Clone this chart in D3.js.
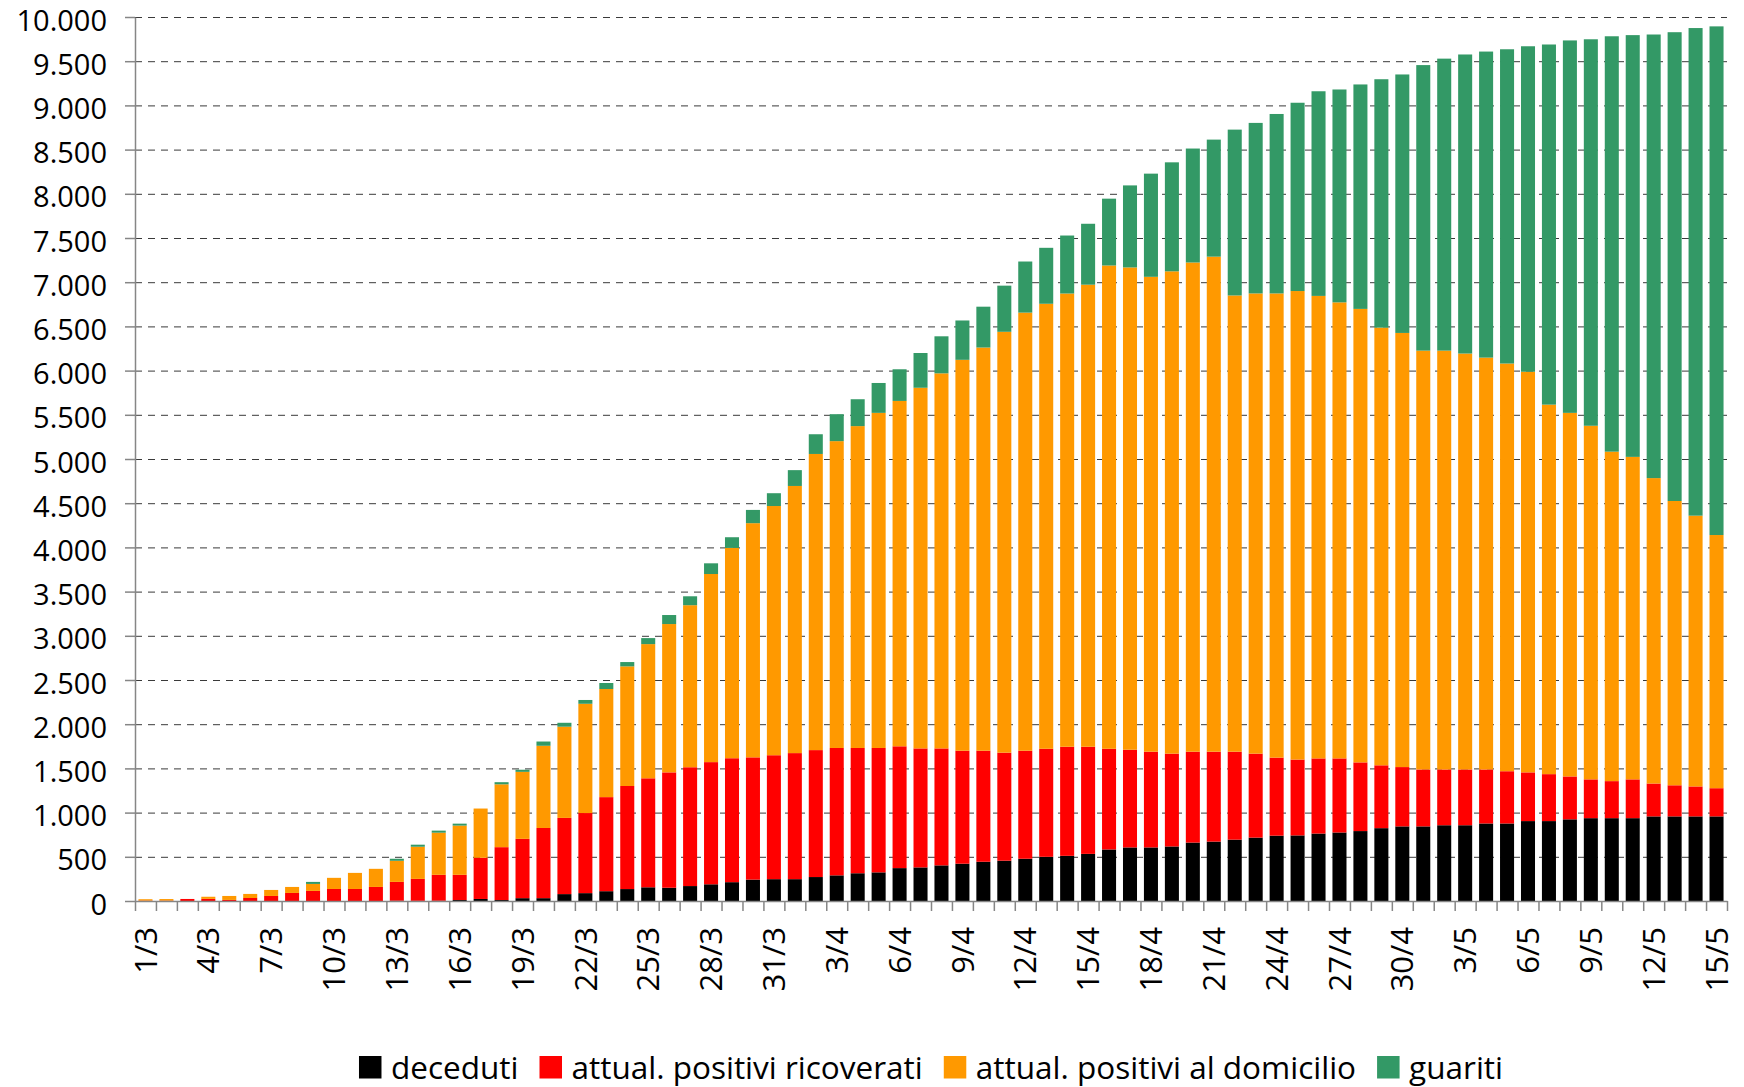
<!DOCTYPE html>
<html><head><meta charset="utf-8">
<script src="https://cdn.jsdelivr.net/npm/d3@7"></script>
<style>
body{margin:0;background:#fff}
svg{display:block}
text{font-family:'Open Sans',sans-serif;fill:#000}
</style>
</head><body>
<svg id="chart" width="1744" height="1087"></svg>
<script>
const categories = [
"1/3","2/3","3/3","4/3","5/3","6/3","7/3","8/3","9/3","10/3","11/3","12/3","13/3","14/3","15/3","16/3",
"17/3","18/3","19/3","20/3","21/3","22/3","23/3","24/3","25/3","26/3","27/3","28/3","29/3","30/3","31/3",
"1/4","2/4","3/4","4/4","5/4","6/4","7/4","8/4","9/4","10/4","11/4","12/4","13/4","14/4","15/4",
"16/4","17/4","18/4","19/4","20/4","21/4","22/4","23/4","24/4","25/4","26/4","27/4","28/4","29/4","30/4",
"1/5","2/5","3/5","4/5","5/5","6/5","7/5","8/5","9/5","10/5","11/5","12/5","13/5","14/5","15/5"];

const deceduti = [
0,0,0,0,0,0,0,0,0,0,0,0,3,2,3,11,23,11,32,32,78,89,111,135,155,150,169,189,213,242,247,
247,271,290,314,324,372,380,403,422,444,456,478,500,511,533,583,606,606,617,661,672,694,717,739,742,763,775,791,824,844,
844,857,857,877,877,904,904,924,937,937,937,957,957,957,957];

const ricoverati = [
4,4,23,24,12,34,57,91,114,136,136,159,213,248,293,285,466,598,671,794,862,906,1064,1166,1233,1305,1344,1382,1402,1383,1402,
1426,1436,1441,1417,1407,1378,1346,1323,1278,1256,1222,1222,1222,1234,1212,1139,1105,1083,1050,1028,1017,995,950,883,858,850,838,777,711,671,
644,631,631,611,591,551,531,485,439,419,439,372,352,339,319];

const domicilio = [
16,18,0,24,45,46,68,68,79,126,182,205,239,364,477,557,557,711,758,930,1032,1236,1223,1353,1518,1678,1833,2128,2379,2649,2819,
3022,3350,3471,3641,3791,3907,4080,4243,4422,4561,4761,4956,5034,5127,5227,5467,5456,5372,5456,5534,5600,5161,5206,5251,5300,5232,5159,5130,4951,4911,
4738,4738,4705,4659,4612,4532,4180,4113,4000,3727,3648,3455,3216,3063,2864];

const guariti = [
0,0,0,0,0,0,0,0,23,0,0,0,23,23,23,22,0,24,24,48,44,43,68,49,68,102,101,121,121,150,145,
179,223,305,304,338,358,393,419,445,462,522,578,633,656,689,756,928,1167,1233,1289,1324,1876,1929,2030,2130,2315,2408,2539,2810,2924,
3230,3303,3383,3462,3555,3682,4074,4213,4372,4699,4771,5018,5303,5516,5754];

const yTicks = [0,500,1000,1500,2000,2500,3000,3500,4000,4500,5000,5500,6000,6500,7000,7500,8000,8500,9000,9500,10000];
const xLabelStep = 3;

const seriesKeys = ["deceduti","ricoverati","domicilio","guariti"];
const seriesNames = ["deceduti","attual. positivi ricoverati","attual. positivi al domicilio","guariti"];
const seriesColors = ["#000000","#FF0000","#FF9900","#339966"];

(function(){
const W = 1744, H = 1087;
const pLeft = 135, pRight = 1727, pTop = 17, pBottom = 901;
const axisFont = "'Liberation Sans', Arial, sans-serif";
const svg = d3.select("#chart");
svg.append("rect").attr("width",W).attr("height",H).attr("fill","#fff");

const table = categories.map((c,i)=>({cat:c, deceduti:deceduti[i], ricoverati:ricoverati[i], domicilio:domicilio[i], guariti:guariti[i]}));
const stacked = d3.stack().keys(seriesKeys)(table);

const x = d3.scaleBand().domain(categories).range([pLeft,pRight]).paddingInner(0.33).paddingOuter(0.165);
const xEdge = d3.scaleLinear().domain([0,categories.length]).range([pLeft,pRight]);
const y = d3.scaleLinear().domain([0,10000]).range([pBottom,pTop]);

const loc = d3.formatLocale({decimal:",",thousands:".",grouping:[3],currency:["€",""]});
const fmt = loc.format(",");

// gridlines
svg.append("g").selectAll("line").data(yTicks.filter(v=>v>0)).join("line")
  .attr("x1",pLeft).attr("x2",pRight)
  .attr("y1",d=>y(d)+0.5).attr("y2",d=>y(d)+0.5)
  .attr("stroke","#3a3a3a").attr("stroke-width",1).attr("stroke-dasharray","7,6");

// bars
svg.append("g").selectAll("g").data(stacked).join("g")
  .attr("fill",(d,i)=>seriesColors[i])
  .selectAll("rect").data(d=>d).join("rect")
  .attr("x",d=>x(d.data.cat))
  .attr("width",x.bandwidth())
  .attr("y",d=>y(d[1]))
  .attr("height",d=>Math.max(0,y(d[0])-y(d[1])));

// y axis
const yAxis = svg.append("g").attr("transform",`translate(${pLeft},0)`)
  .call(d3.axisLeft(y).tickValues(yTicks).tickFormat(fmt).tickSize(10).tickSizeOuter(0).tickPadding(18));
yAxis.select(".domain").attr("stroke","#868686").attr("stroke-width",1.5);
yAxis.selectAll(".tick line").attr("stroke","#868686").attr("stroke-width",1.5);
yAxis.selectAll(".tick text").attr("font-size",29).attr("font-family",axisFont).attr("dy","0.45em").attr("fill","#000");

// x axis (ticks at category boundaries)
const xAxis = svg.append("g").attr("transform",`translate(0,${pBottom})`)
  .call(d3.axisBottom(xEdge).tickValues(d3.range(categories.length+1)).tickFormat("").tickSize(10).tickSizeOuter(0));
xAxis.select(".domain").attr("stroke","#868686").attr("stroke-width",1.5);
xAxis.selectAll(".tick line").attr("stroke","#868686").attr("stroke-width",1.5);

// x labels
svg.append("g").selectAll("text").data(categories.filter((c,i)=>i%xLabelStep===0)).join("text")
  .attr("transform",d=>`translate(${x(d)+x.bandwidth()/2},927) rotate(-90)`)
  .attr("text-anchor","end").attr("dy","0.36em")
  .attr("font-size",31).attr("font-family",axisFont)
  .text(d=>d);

// legend
const lg = svg.append("g");
const items = lg.selectAll("g").data(seriesNames).join("g");
items.append("rect").attr("width",22.5).attr("height",22.5).attr("y",1056).attr("fill",(d,i)=>seriesColors[i]);
items.append("text").attr("x",32).attr("y",1078.5).attr("font-size",31.5).text(d=>d);
const widths = [];
items.each(function(){ widths.push(32 + d3.select(this).select("text").node().getComputedTextLength()); });
const gap = 21;
const total = d3.sum(widths) + gap*(widths.length-1);
let cx = (pLeft+pRight)/2 - total/2;
items.each(function(d,i){ d3.select(this).attr("transform",`translate(${cx},0)`); cx += widths[i] + gap; });
})();
</script>
</body></html>
